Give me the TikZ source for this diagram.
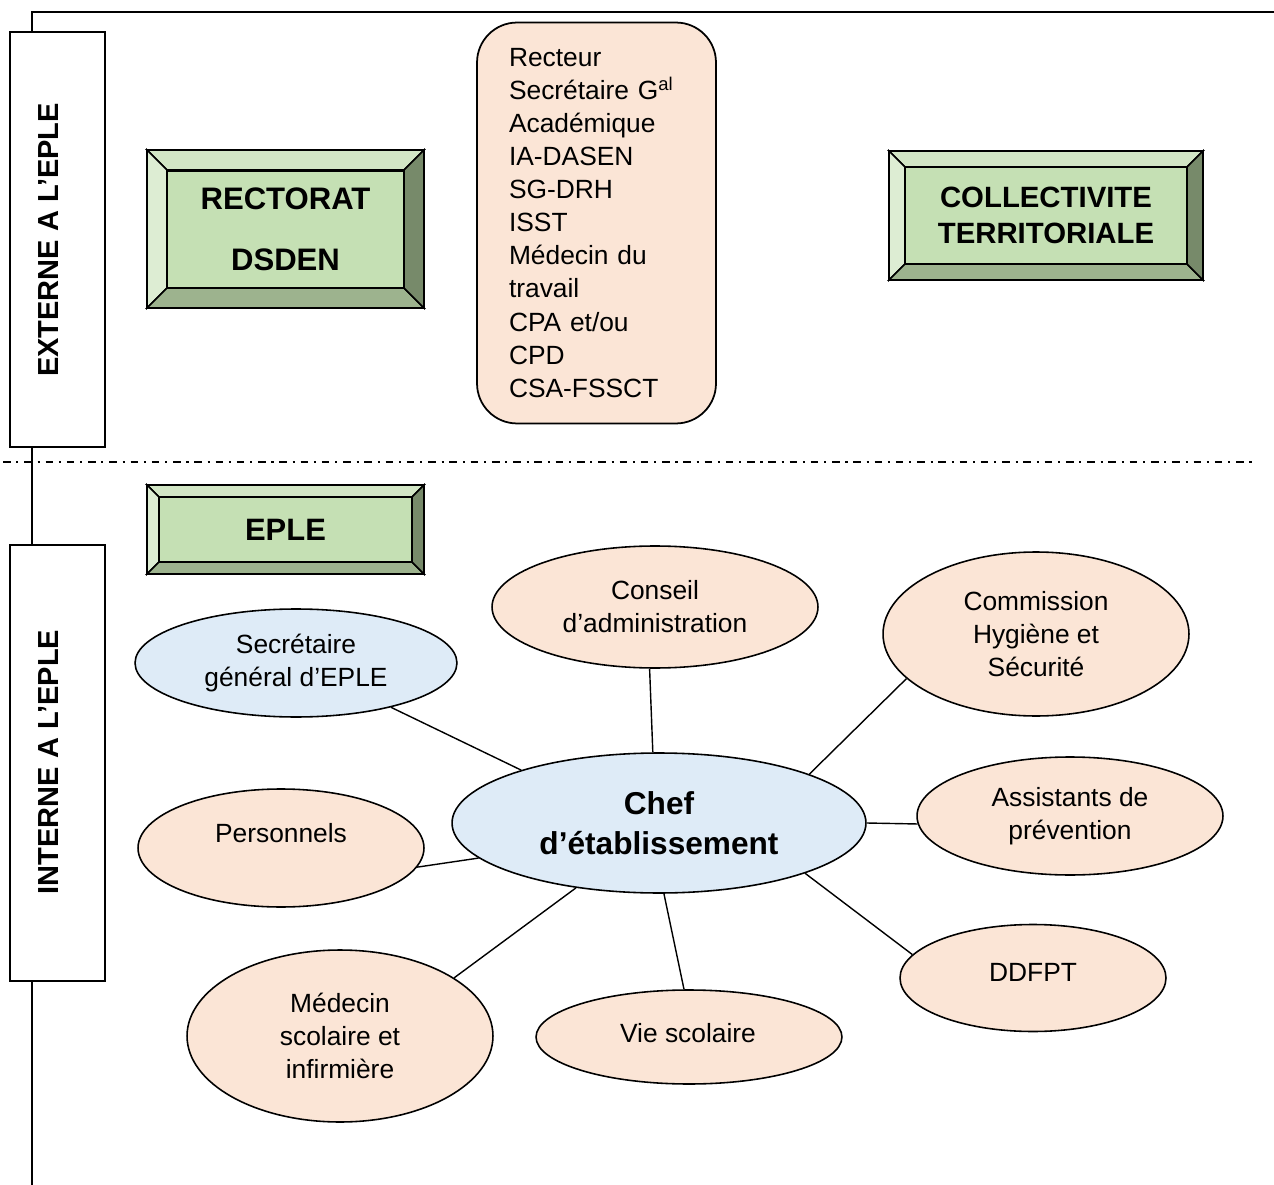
\documentclass[tikz,border=0pt]{standalone}
\usepackage{fontspec}
\setmainfont{Liberation Sans}
\usetikzlibrary{shapes.geometric}
\definecolor{peach}{HTML}{FBE5D6}
\definecolor{paleblue}{HTML}{DEEBF7}
\definecolor{bvface}{HTML}{C5E0B4}
\definecolor{bvtop}{HTML}{D2E6C5}
\definecolor{bvleft}{HTML}{DDEDD3}
\definecolor{bvbottom}{HTML}{9DB38E}
\definecolor{bvright}{HTML}{778A6A}
\tikzset{
  frameline/.style={line width=1pt},
  sidebox/.style={draw, line width=1pt, fill=white, inner sep=0pt},
  sidelabel/.style={rotate=90, font=\bfseries\fontsize{16.5}{20}\selectfont, inner sep=0pt},
  oval/.style={ellipse, draw, line width=0.9pt, fill=peach, inner sep=0pt, align=center, font=\fontsize{15}{18.7}\selectfont},
  blueoval/.style={oval, fill=paleblue},
  ovaltext/.style={inner sep=0pt, align=center, font=\fontsize{15}{18.7}\selectfont},
  link/.style={line width=0.8pt},
  face/.style={draw, line width=0.9pt, fill=bvface, inner sep=0pt, align=center},
  bevel/.style={draw, line width=0.9pt, line join=miter},
  sepline/.style={line width=1.2pt, dash pattern=on 4.3pt off 3.3pt on 1.2pt off 3.3pt},
}
\newcommand\bevelframe[5]{%
  \filldraw[bevel, fill=bvtop] (#1,#2) -- (#3,#2) -- ({#3-#5},{#2+#5}) -- ({#1+#5},{#2+#5}) -- cycle;
  \filldraw[bevel, fill=bvleft] (#1,#2) -- ({#1+#5},{#2+#5}) -- ({#1+#5},{#4-#5}) -- (#1,#4) -- cycle;
  \filldraw[bevel, fill=bvbottom] (#1,#4) -- ({#1+#5},{#4-#5}) -- ({#3-#5},{#4-#5}) -- (#3,#4) -- cycle;
  \filldraw[bevel, fill=bvright] (#3,#2) -- (#3,#4) -- ({#3-#5},{#4-#5}) -- ({#3-#5},{#2+#5}) -- cycle;
}
\begin{document}
\begin{tikzpicture}[x=0.02cm,y=-0.02cm]
\useasboundingbox (0,0) rectangle (1274,1185);

% frame
\draw[frameline] (32,1185) -- (32,12) -- (1274,12);

% side labels
\node[sidebox, minimum width=1.9cm, minimum height=8.3cm] (extbox) at (57.5,239.5) {};
\node[sidelabel] (extlbl) at (48.5,240) {EXTERNE A L’EPLE};
\node[sidebox, minimum width=1.9cm, minimum height=8.72cm] (intbox) at (57.5,763) {};
\node[sidelabel] (intlbl) at (48.5,762) {INTERNE A L’EPLE};

% separator
\draw[sepline] (3,462) -- (1252,462);

% RECTORAT box
\bevelframe{147}{150}{424}{308}{20}
\node[face, minimum width=4.74cm, minimum height=2.34cm, font=\bfseries\fontsize{17.7}{34.6}\selectfont] (rect) at (285.5,229.5) {RECTORAT\\DSDEN};

% COLLECTIVITE box
\bevelframe{889}{151}{1203}{280}{16}
\node[face, minimum width=5.64cm, minimum height=1.94cm, font=\bfseries\fontsize{16.7}{20.4}\selectfont] (coll) at (1046,215.5) {COLLECTIVITE\\TERRITORIALE};

% EPLE box
\bevelframe{147}{485}{424}{574}{12}
\node[face, minimum width=5.06cm, minimum height=1.3cm, font=\bfseries\fontsize{17.6}{21}\selectfont] (eple) at (285.5,529.5) {EPLE};

% academic list
\node[draw, line width=1pt, fill=peach, rounded corners=0.8cm, minimum width=4.78cm, minimum height=8.02cm, text width=3.5cm, inner sep=0pt, align=left, font=\fontsize{15}{18.8}\selectfont] (acad) at (596.5,223) {Recteur\\Secrétaire G\textsuperscript{al}\\Académique\\IA-DASEN\\SG-DRH\\ISST\\Médecin du\\travail\\CPA et/ou\\CPD\\CSA-FSSCT};

% ellipses
\node[blueoval, minimum width=6.44cm, minimum height=2.16cm] (sg) at (296,663) {Secrétaire\\général d’EPLE};
\node[oval, minimum width=6.52cm, minimum height=2.44cm] (ca) at (655,607) {Conseil\\d’administration};
\node[oval, minimum width=6.12cm, minimum height=3.28cm] (chs) at (1036,634) {Commission\\Hygiène et\\Sécurité};
\node[oval, minimum width=6.12cm, minimum height=2.36cm] (ap) at (1070,816) {Assistants de\\prévention};
\node[blueoval, minimum width=8.28cm, minimum height=2.8cm, font=\bfseries\fontsize{18}{22.7}\selectfont] (chef) at (659,823) {Chef\\d’établissement};
\node[oval, minimum width=5.72cm, minimum height=2.36cm] (pers) at (281,848) {};
\node[ovaltext] (perst) at (281,833) {Personnels};
\node[oval, minimum width=5.32cm, minimum height=2.14cm] (ddfpt) at (1033,978) {};
\node[ovaltext] (ddfptt) at (1033,972) {DDFPT};
\node[oval, minimum width=6.12cm, minimum height=1.88cm] (vs) at (689,1037) {};
\node[ovaltext] (vst) at (688,1033) {Vie scolaire};
\node[oval, minimum width=6.12cm, minimum height=3.44cm] (med) at (340,1036) {Médecin\\scolaire et\\infirmière};

% connectors
\draw[link] (sg.-25) -- (chef.159);
\draw[link] (ca.-95.5) -- (chef.95.8);
\draw[link] (chs.-161) -- (chef.18.8);
\draw[link] (chef.-0.8) -- (ap.-177.8);
\draw[link] (chef.-19.5) -- (ddfpt.169);
\draw[link] (chef.-86.7) -- (vs.96);
\draw[link] (chef.-142) -- (med.27);
\draw[link] (pers.-8.3) -- (chef.-169.4);
\end{tikzpicture}
\end{document}
